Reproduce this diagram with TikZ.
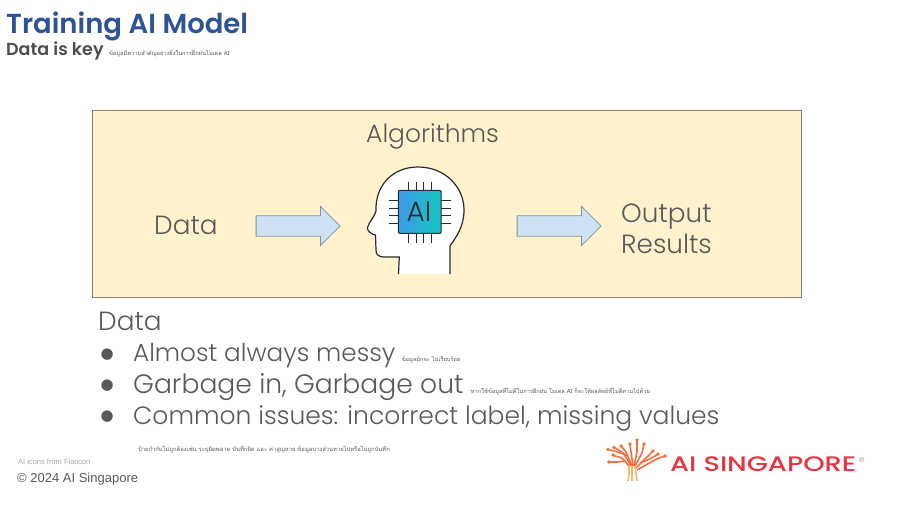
\documentclass[tikz,border=0pt]{standalone}
\usepackage{fontspec}
\setmainfont{Liberation Sans}
\newfontfamily\titlefont{Poppins}[BoldFont={Poppins SemiBold}]
\newfontfamily\bodyfont{Poppins Light}
\newfontfamily\logofont{Poppins Medium}[FakeStretch=1.3]
\newfontfamily\thaifont[Script=Thai]{Loma}
\newfontfamily\symfont{DejaVu Sans}
\usetikzlibrary{positioning,shapes.arrows,calc}
\definecolor{titleblue}{HTML}{2F5496}
\definecolor{subgrey}{HTML}{4D4D4D}
\definecolor{bodygrey}{HTML}{595959}
\definecolor{boxfill}{HTML}{FFF2CC}
\definecolor{boxline}{HTML}{7F7F6E}
\definecolor{arrowfill}{HTML}{CFE2F3}
\definecolor{arrowline}{HTML}{8093A3}
\definecolor{chipleft}{HTML}{3D9BE9}
\definecolor{chipright}{HTML}{14C4BE}
\definecolor{headline}{HTML}{2B2B2B}
\definecolor{logored}{HTML}{E8343F}
\definecolor{logoorange}{HTML}{F0703F}
\definecolor{logotrunk}{HTML}{F6B56B}

\begin{document}
\begin{tikzpicture}[
        x=1pt, y=-1pt,
        title/.style={anchor=base west, inner sep=0pt, text=titleblue, font=\titlefont\bfseries\fontsize{27.5}{29}\selectfont},
        subtitle/.style={anchor=base west, inner sep=0pt, text=subgrey, font=\titlefont\bfseries\fontsize{17.5}{19}\selectfont},
        body/.style={anchor=base west, inner sep=0pt, text=bodygrey, font=\bodyfont\fontsize{25}{27}\selectfont},
        bodylarge/.style={body, font=\bodyfont\fontsize{26.3}{28}\selectfont},
        bullet/.style={anchor=base west, inner sep=0pt, text=bodygrey, font=\symfont\fontsize{15}{17}\selectfont},
        thainote/.style={anchor=base west, inner sep=0pt, text=bodygrey, font=\thaifont\fontsize{5.7}{7}\selectfont},
        bigarrow/.style={single arrow, draw=arrowline, fill=arrowfill, line width=0.8pt, minimum height=84pt, single arrow head extend=9.5pt, single arrow tip angle=90, inner xsep=0pt, inner ysep=9.8pt},
        pin/.style={headline, line width=1pt},
        branch/.style={line width=1.6pt, rounded corners=1pt}
    ]
        \useasboundingbox (0,0) rectangle (900,506);

        % Heading
        \node[title] (heading) at (6,34) {Training AI Model};
        \node[subtitle] (subhead) at (6,55) {Data is key};
        \node[thainote, right=5pt of subhead.base east, anchor=base west] (subnote) {ข้อมูลมีความสำคัญอย่างยิ่งในการฝึกฝนโมเดล AI};

        % Yellow panel
        \draw[fill=boxfill, draw=boxline, line width=0.8pt] (92,110) rectangle (801,297);
        \node[body] (algo) at (366,142) {Algorithms};
        \node[bodylarge] (data) at (154,234) {Data};
        \node[bigarrow] (inarrow) at (293,226) {};
        \node[bigarrow] (outarrow) at (554,226) {};
        \node[bodylarge] (output) at (621,222) {Output};
        \node[bodylarge] (results) at (621,253) {Results};

        % Head with chip
        \fill[white, draw=headline, line width=1.2pt, line join=round]
            (398.5,274) -- (399.3,257) -- (384,257) .. controls (378,257) and (376,254) .. (376,250)
            -- (375.5,235) .. controls (371,234) and (367,231) .. (367.5,227.5)
            .. controls (369,222) and (375,216) .. (376,211)
            .. controls (375,185) and (393,167) .. (418,167)
            .. controls (445,167) and (464,187) .. (464,210)
            .. controls (464,226) and (457,236) .. (450,246) -- (450,274);
        \foreach \px in {408.3,416,423.3,431} {
            \draw[pin] (\px,181.7) -- (\px,242.7);
        }
        \foreach \py in {200.7,208.3,215.7,223.3} {
            \draw[pin] (389,\py) -- (450.7,\py);
        }
        \draw[headline, line width=1pt, rounded corners=1pt, left color=chipleft, right color=chipright] (398.3,190.3) rectangle (441,233.3);
        \node[anchor=base, inner sep=0pt, text=headline, font=\bodyfont\fontsize{28}{30}\selectfont] (chiptext) at (419,221.7) {AI};

        % Data list
        \node[bodylarge] (listhead) at (98,330) {Data};
        \node[bullet] (dotone) at (100.5,358) {●};
        \node[bullet] (dottwo) at (100.5,389) {●};
        \node[bullet] (dotthree) at (100.5,420) {●};
        \node[body, font=\bodyfont\fontsize{24.7}{27}\selectfont] (itemone) at (133,361) {Almost always messy};
        \node[body, font=\bodyfont\fontsize{26.6}{28}\selectfont] (itemtwo) at (133,393) {Garbage in, Garbage out};
        \node[body] (itemthree) at (133,424) {Common issues: incorrect label, missing values};
        \node[thainote, right=6pt of itemone.base east, anchor=base west] (noteone) {ข้อมูลมักจะ ไม่เรียบร้อย};
        \node[thainote, right=7pt of itemtwo.base east, anchor=base west] (notetwo) {หากใช้ข้อมูลที่ไม่ดีในการฝึกฝน โมเดล AI ก็จะให้ผลลัพธ์ที่ไม่ดีตามไปด้วย};
        \node[thainote, font=\thaifont\fontsize{5.85}{7}\selectfont] (notethree) at (138,451) {ป้ายกำกับไม่ถูกต้องเช่น ระบุผิดพลาด บันทึกผิด  และ ค่าสูญหาย ข้อมูลบางส่วนหายไปหรือไม่ถูกบันทึก};

        % Footer
        \node[anchor=base west, inner sep=0pt, text=black!35, font=\fontsize{7.5}{9}\selectfont] (credit) at (18,464) {AI icons from Flaticon};
        \node[anchor=base west, inner sep=0pt, text=bodygrey, font=\fontsize{13}{15}\selectfont] (copyright) at (17,482) {© 2024 AI Singapore};

        % Logo tree
        \foreach \tx/\ty in {608/449.5,614/447.5,621/446,630/444,637/440,644/444,653/451,658/454,665/456,609/462,613/455} {
            \fill[logoorange] (\tx,\ty) circle (1.9pt);
        }
        \draw[branch, logoorange] (629,466) -- (622,458) -- (612,455) (626,461) -- (618,462) -- (609,462);
        \draw[branch, logoorange] (631,466) -- (624,454) -- (614,451) -- (608,449.5);
        \draw[branch, logoorange] (632,466) -- (626,452) -- (621,446);
        \draw[branch, logoorange] (627,456) -- (617,449) -- (614,447.5);
        \draw[branch, logoorange] (633,466) -- (631,452) -- (630,444);
        \draw[branch, logoorange] (634,466) -- (637,452) -- (637,440);
        \draw[branch, logoorange] (635,466) -- (642,453) -- (644,444);
        \draw[branch, logoorange] (636,468) -- (646,458) -- (653,451);
        \draw[branch, logoorange] (640,463) -- (650,459) -- (658,454);
        \draw[branch, logoorange] (637,470) -- (651,462) -- (659,458) -- (665,456);
        \draw[branch, logotrunk] (629,466) -- (629,474) -- (628,481) (632,466) -- (632,481) (635,466) -- (636,474) -- (637,481);

        % Logo text
        \node[anchor=base west, inner sep=0pt, text=logored, font=\logofont\fontsize{21}{23}\selectfont] (logotext) at (670,471.7) {AI SINGAPORE};
        \node[anchor=base west, inner sep=0pt, text=black!45, font=\fontsize{7}{8}\selectfont] (logomark) at (859,462) {®};
    \end{tikzpicture}
\end{document}
